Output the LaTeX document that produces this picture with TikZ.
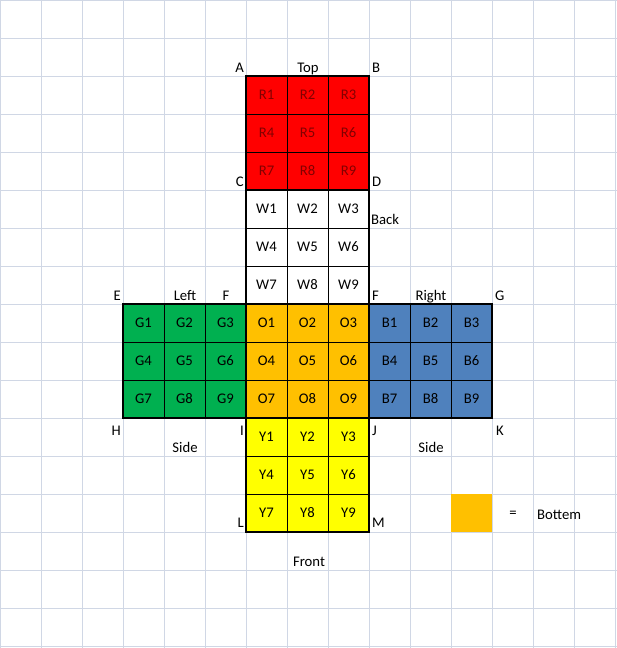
\documentclass[tikz,border=0pt]{standalone}
\usepackage{fontspec}
\setmainfont{Carlito}
\definecolor{gridc}{RGB}{208,215,229}
\definecolor{xred}{RGB}{255,0,0}
\definecolor{rtext}{RGB}{130,0,0}
\definecolor{xgreen}{RGB}{0,176,80}
\definecolor{xorange}{RGB}{255,192,0}
\definecolor{xblue}{RGB}{79,129,189}
\definecolor{xyellow}{RGB}{255,255,0}
\begin{document}
\begin{tikzpicture}[x=1pt,y=-1pt,
  cell/.style={draw=black, line width=0.8pt, minimum width=41pt, minimum height=38pt,
    inner sep=0pt, outer sep=0pt, font=\fontsize{14.7}{16}\selectfont},
  lbl/.style={font=\fontsize{14.7}{16}\selectfont, inner sep=0pt, anchor=base},
  face/.style={draw=black, line width=2.2pt}]
\useasboundingbox (0,0) rectangle (617,648);
\fill[white] (0,0) rectangle (617,648);
\foreach \i in {0,...,15} \draw[gridc, line width=1pt] (41*\i+0.5,0) -- (41*\i+0.5,648);
\foreach \j in {0,...,17} \draw[gridc, line width=1pt] (0,38*\j) -- (617,38*\j);
\foreach \f/\x/\y/\c/\t in {R/246/76/xred/rtext, W/246/190/white/black, G/123/304/xgreen/black, O/246/304/xorange/black, B/369/304/xblue/black, Y/246/418/xyellow/black} {
  \foreach \r in {0,1,2} {
    \foreach \k in {0,1,2} {
      \pgfmathtruncatemacro\n{3*\r+\k+1}
      \node[cell, fill=\c, text=\t] (\f\n) at (\x+41*\k+20.5, \y+38*\r+19) {\f\n};
    }
  }
  \draw[face] (\f1.north west) rectangle (\f9.south east);
}
\node[fill=xorange, minimum width=41pt, minimum height=38pt, inner sep=0pt, outer sep=0pt] (legend) at (471.5,513) {};
\node[lbl, anchor=base east] (lA) at (244,72) {A};
\node[lbl] (lTop) at (308,72) {Top};
\node[lbl, anchor=base west] (lB) at (372,72) {B};
\node[lbl, anchor=base east] (lC) at (244,186) {C};
\node[lbl, anchor=base west] (lD) at (372,186) {D};
\node[lbl, anchor=base west] (lBack) at (371,224) {Back};
\node[lbl, anchor=base east] (lE) at (121,300) {E};
\node[lbl] (lLeft) at (185,300) {Left};
\node[lbl] (lF1) at (226,300) {F};
\node[lbl, anchor=base west] (lF2) at (372,300) {F};
\node[lbl] (lRight) at (431,300) {Right};
\node[lbl, anchor=base west] (lG) at (495,300) {G};
\node[lbl, anchor=base east] (lH) at (121,435) {H};
\node[lbl, anchor=base east] (lI) at (244,435) {I};
\node[lbl, anchor=base west] (lJ) at (372,435) {J};
\node[lbl, anchor=base west] (lK) at (496,435) {K};
\node[lbl] (lSide1) at (185,452) {Side};
\node[lbl] (lSide2) at (431,452) {Side};
\node[lbl, anchor=base east] (lL) at (244,527) {L};
\node[lbl, anchor=base west] (lM) at (372,527) {M};
\node[lbl] (lFront) at (309,566) {Front};
\node[lbl, anchor=center] (lEq) at (513,514) {=};
\node[lbl, anchor=base west] (lBottem) at (537,519) {Bottem};
\end{tikzpicture}
\end{document}
